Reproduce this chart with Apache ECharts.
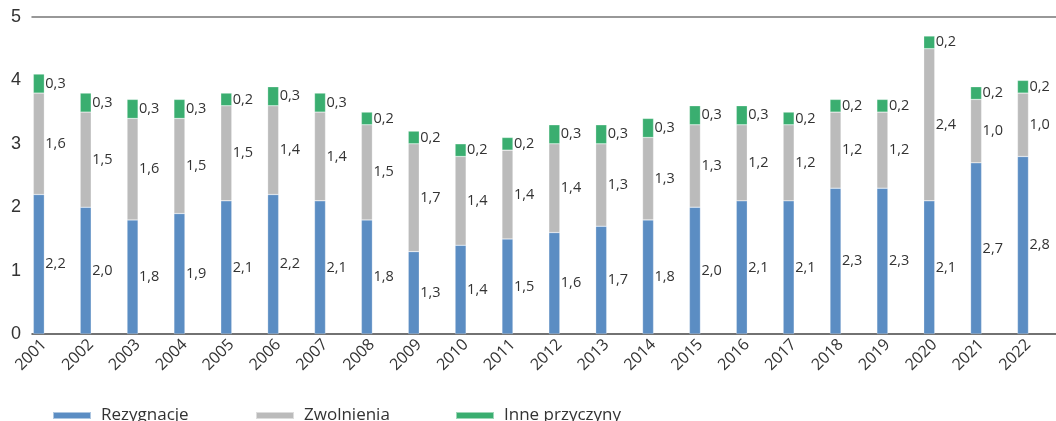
<!DOCTYPE html>
<html>
<head>
<meta charset="utf-8">
<script src="https://cdn.jsdelivr.net/npm/echarts@6/dist/echarts.min.js"></script>
<style>
  html, body { margin: 0; padding: 0; background: #fff; }
  #chart { width: 1056px; height: 421px; }
</style>
</head>
<body>
<div id="chart"></div>
<script>
// Reasons for leaving a job, 2001–2022 (stacked shares)
const years = ['2001','2002','2003','2004','2005','2006','2007','2008','2009','2010','2011',
               '2012','2013','2014','2015','2016','2017','2018','2019','2020','2021','2022'];
const rezygnacje = [2.2,2.0,1.8,1.9,2.1,2.2,2.1,1.8,1.3,1.4,1.5,1.6,1.7,1.8,2.0,2.1,2.1,2.3,2.3,2.1,2.7,2.8];
const zwolnienia = [1.6,1.5,1.6,1.5,1.5,1.4,1.4,1.5,1.7,1.4,1.4,1.4,1.3,1.3,1.3,1.2,1.2,1.2,1.2,2.4,1.0,1.0];
const inne       = [0.3,0.3,0.3,0.3,0.2,0.3,0.3,0.2,0.2,0.2,0.2,0.3,0.3,0.3,0.3,0.3,0.2,0.2,0.2,0.2,0.2,0.2];
const seriesNames = ['Rezygnacje', 'Zwolnienia', 'Inne przyczyny'];
const colors = ['#5B8DC3', '#BBBBBB', '#3AAE70'];

const chart = echarts.init(document.getElementById('chart'));

const W = 1031;          // plot width (category band = W / 22)
const TOP = 17, BOTTOM = 87;

const fmt = v => v.toFixed(1).replace('.', ',');

function barSeries(name, data, color) {
  return {
    name, type: 'bar', stack: 'total', data,
    xAxisIndex: 2, yAxisIndex: 2,
    barWidth: 11,
    itemStyle: { color, borderColor: 'rgba(255,255,255,0.5)', borderWidth: 0.5 },
    label: {
      show: true, position: 'right', distance: 1,
      formatter: p => fmt(p.value),
      fontFamily: 'Open Sans', fontSize: 14.5, color: '#333'
    }
  };
}

// one legend block per series, placed at fixed x positions
const legendLeft = [52, 255, 455];
const legends = seriesNames.map((n, i) => ({
  data: [n], left: legendLeft[i], top: 407, padding: 0,
  itemWidth: 38, itemHeight: 7, icon: 'rect',
  textStyle: { fontFamily: 'Open Sans', fontSize: 17, color: '#333', padding: [0, 0, 0, 5] }
}));

chart.setOption({
  animation: false,
  textStyle: { fontFamily: 'Liberation Sans' },
  grid: [
    // frame: y labels, baseline and top line
    { left: 32, top: TOP, width: W, bottom: BOTTOM },
    // year labels
    { left: 20.6, top: TOP, width: W, bottom: BOTTOM },
    // bars
    { left: 15.4, top: TOP, width: W, bottom: BOTTOM }
  ],
  legend: legends,
  xAxis: [
    { gridIndex: 0, type: 'category', data: years, position: 'bottom',
      axisLine: { lineStyle: { color: '#444', width: 1.5 } }, axisTick: { show: false }, axisLabel: { show: false } },
    { gridIndex: 1, type: 'category', data: years, position: 'bottom',
      axisLine: { show: false }, axisTick: { show: false },
      axisLabel: { rotate: 45, margin: 8, fontFamily: 'Open Sans', fontSize: 16, color: '#333', interval: 0 } },
    { gridIndex: 2, type: 'category', data: years, show: false },
    { gridIndex: 0, type: 'category', data: years, position: 'top',
      axisLine: { lineStyle: { color: '#777', width: 1.5 } }, axisTick: { show: false }, axisLabel: { show: false } }
  ],
  yAxis: [
    { gridIndex: 0, type: 'value', min: 0, max: 5, interval: 1,
      axisLine: { show: false }, axisTick: { show: false }, splitLine: { show: false },
      axisLabel: { margin: 11, fontSize: 18, color: '#333' } },
    { gridIndex: 1, type: 'value', min: 0, max: 5, interval: 1, show: false, splitLine: { show: false } },
    { gridIndex: 2, type: 'value', min: 0, max: 5, interval: 1, show: false, splitLine: { show: false } }
  ],
  series: [
    barSeries(seriesNames[0], rezygnacje, colors[0]),
    barSeries(seriesNames[1], zwolnienia, colors[1]),
    barSeries(seriesNames[2], inne, colors[2])
  ]
});
</script>
</body>
</html>
